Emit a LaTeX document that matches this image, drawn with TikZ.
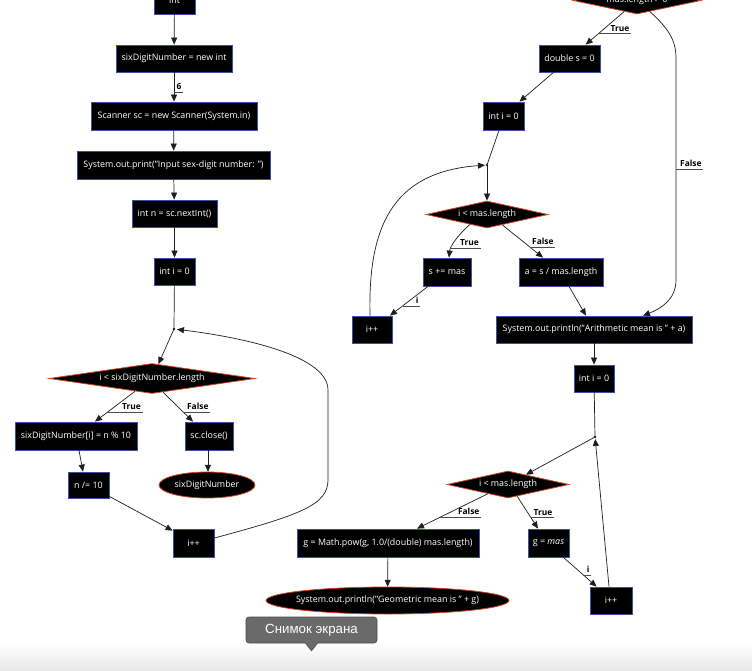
\documentclass[tikz,border=0pt]{standalone}
\usepackage{fontspec}
\setmainfont{Open Sans}
\newfontfamily\tipfont{Liberation Sans}
\usetikzlibrary{arrows.meta,shapes.geometric,calc,backgrounds}

\definecolor{boxedge}{HTML}{3F4FA8}
\definecolor{decedge}{HTML}{D2461E}
\definecolor{linecol}{HTML}{1E1E1E}
\definecolor{tipgray}{HTML}{6A6A6A}
\definecolor{tipedge}{HTML}{4C4C4C}

\tikzset{
  lbl/.style={font=\fontsize{8.9}{10}\selectfont, text=white},
  box/.style n args={2}{rectangle, fill=black, draw=boxedge, line width=0.8pt, lbl,
    inner sep=0pt, minimum width=#1, minimum height=#2},
  test/.style n args={2}{diamond, shape aspect=5, fill=black, draw=decedge, line width=0.8pt, lbl,
    inner sep=0pt, minimum width=#1, minimum height=#2},
  term/.style n args={2}{rectangle, lbl, inner sep=0pt, minimum width=#1, minimum height=#2},
  arr/.style={draw=linecol, line width=0.7pt, -{Triangle[length=7pt,width=6pt]}},
  plain/.style={draw=linecol, line width=0.7pt},
  elab/.style={font=\fontsize{8.4}{10}\selectfont\bfseries, inner sep=0pt, anchor=base west},
  uline/.style={draw=black!70, line width=0.6pt},
  tip/.style={rectangle, rounded corners=3pt, fill=tipgray, draw=tipedge, line width=0.6pt,
    text=white, font=\tipfont\fontsize{13.3}{16}\selectfont, inner sep=0pt,
    minimum width=131, minimum height=26},
}

% edge label: point on the edge, horizontal offset of the text, name, text
\newcommand\edgelabel[4]{%
  \node[elab] (#3) at ($(#1)+(#2,-2.5)$) {#4};
  \draw[uline] (#1) -- ($(#1 -| #3.east)+(1.5,0)$);
}

\begin{document}
\begin{tikzpicture}[x=1pt,y=-1pt]
\useasboundingbox (0,0) rectangle (752,671);
\clip (0,0) rectangle (752,671);

% ---------- left flow: reading the six-digit number ----------
\node[box={41}{27}]  (int)     at (174.5,0.5)  {int};
\node[box={116}{27}] (new)     at (174,58.5)   {sixDigitNumber = new int};
\node[box={166}{28}] (scan)    at (174,116)    {Scanner sc = new Scanner(System.in)};
\node[box={193}{28}] (print)   at (173.5,165)  {System.out.print("Input sex-digit number: ")};
\node[box={85}{27}]  (nextint) at (174.5,213.5){int n = sc.nextInt()};
\node[box={41}{27}]  (iL)      at (174.5,271.5){int i = 0};
\coordinate (jL) at (174,329);
\node[test={206}{27}] (dL)     at (152,378.5)  {i < sixDigitNumber.length};
\node[box={122}{28}] (digit)   at (76,436)     {sixDigitNumber[i] = n \% 10};
\node[box={48}{28}]  (close)   at (209,436)    {sc.close()};
\node[box={41}{26}]  (ndiv)    at (88.5,485)   {n /= 10};
\node[term={96}{26}] (retL)    at (207,485)    {sixDigitNumber};
\node[box={41}{28}]  (incL)    at (193.5,543)  {i++};

% ---------- right flow: the two means ----------
\node[test={128}{27}] (dTop)   at (637,0.5)    {mas.length > 0};
\node[box={61}{27}]  (dbl)     at (569.5,58.5) {double s = 0};
\node[box={41}{28}]  (iR1)     at (503.5,116)  {int i = 0};
\coordinate (jR1) at (487,165);
\node[test={122}{27}] (dR1)    at (487,214.5)  {i < mas.length};
\node[box={48}{28}]  (sadd)    at (447,272)    {s += mas};
\node[box={84}{28}]  (adiv)    at (561,272)    {a = s / mas.length};
\node[box={40}{27}]  (incR1)   at (372,329.5)  {i++};
\node[box={196}{27}] (arith)   at (594,329.5)  {System.out.println("Arithmetic mean is " + a)};
\node[box={40}{27}]  (iR2)     at (594,378.5)  {int i = 0};
\coordinate (jR2) at (595,437);
\node[test={122}{27}] (dR2)    at (508,484.5)  {i < mas.length};
\node[box={182}{28}] (gpow)    at (388,543)    {g = Math.pow(g, 1.0/(double) mas.length)};
\node[box={41}{28}]  (gmas)    at (548.5,543)  {g = \textit{mas}};
\node[box={42}{27}]  (incR2)   at (611,600.5)  {i++};
\node[term={243}{27}] (retR)   at (387.5,600.5){System.out.println("Geometric mean is " + g)};

% terminal ellipses and page shading behind everything
\begin{scope}[on background layer]
  \fill[white] (0,0) rectangle (752,671);
  \shade[top color=white, bottom color=black!9] (0,642) rectangle (752,671);
  \filldraw[fill=black, draw=decedge, line width=0.8pt] (retL.center) ellipse [x radius=48, y radius=13];
  \filldraw[fill=black, draw=decedge, line width=0.8pt] (retR.center) ellipse [x radius=121.5, y radius=13.5];
\end{scope}

% ---------- left connectors ----------
\draw[arr] (int) -- (new);
\draw[arr] (new) -- coordinate[pos=0.667] (e6) (scan);
\draw[arr] (scan) -- (print);
\draw[arr] (print) -- (nextint);
\draw[arr] (nextint) -- (iL);
\draw[plain] (iL) -- (jL);
\draw[arr] (jL) -- (dL);
\draw[arr] ($(dL.south)!0.165!(dL.west)$) -- coordinate[pos=0.69] (eLT) ($(digit.north)+(19,0)$);
\draw[arr] ($(dL.south)!0.107!(dL.east)$) -- coordinate[pos=0.68] (eLF) ($(close.north)+(-16,0)$);
\draw[arr] ($(digit.south)+(3,0)$) -- ($(ndiv.north)+(-5.5,0)$);
\draw[arr] ($(close.south)+(-1,0)$) -- ($(retL.north)+(1,0)$);
\draw[arr] ($(ndiv.south east)+(0,-2)$) -- ($(incL.north west)+(0,2)$);
\draw[arr, shorten >=3pt] ($(incL.east)+(0,-5)$) .. controls (300,515) and (328,505) .. (328,480)
   -- (328,390) .. controls (328,355) and (240,337) .. (jL);
\fill[linecol] (jL) circle (1.4);

\edgelabel{e6}{2.5}{l6}{6}
\edgelabel{eLT}{14.5}{lLT}{True}
\edgelabel{eLF}{3.5}{lLF}{False}

% ---------- right connectors ----------
\draw[arr] ($(dTop.south)!0.2!(dTop.west)$) -- coordinate[pos=0.67] (eTT) (dbl);
\draw[arr] ($(dTop.south)!0.2!(dTop.east)$) .. controls (668,28) and (676,40) .. (676,58)
   -- coordinate[pos=0.5] (eTF) (676,280) .. controls (676,300) and (660,309) .. ($(arith.north)+(49,0)$);
\draw[arr] ($(dbl.south)+(-16,0)$) -- ($(iR1.north)+(16,0)$);
\draw[plain] ($(iR1.south)+(-4.5,0)$) -- (jR1);
\draw[arr] (jR1) -- (dR1.north);
\draw[arr] ($(dR1.south)!0.28!(dR1.west)$) .. controls (456,237) and (450,247) .. ($(sadd.north)+(2,0)$);
\coordinate (eR1T) at (451,248);
\draw[arr] ($(dR1.south)!0.25!(dR1.east)$) -- coordinate[pos=0.68] (eR1F) ($(adiv.north)+(-18,0)$);
\draw[arr] ($(sadd.south)+(-19,0)$) -- coordinate[pos=0.667] (eSI) ($(incR1.north)+(18,0)$);
\draw[arr, shorten >=2pt] ($(incR1.north)+(-2,0)$) .. controls (368,230) and (390,172) .. (jR1);
\fill[linecol] (jR1) circle (1.4);
\draw[arr] ($(adiv.south)+(8,0)$) -- ($(arith.north)+(-8,0)$);
\draw[arr] (arith) -- (iR2);
\draw[plain] (iR2) -- (jR2);
\draw[arr] (jR2) -- (dR2);
\fill[linecol] (jR2) circle (1.4);
\draw[arr] ($(dR2.south)!0.33!(dR2.west)$) -- coordinate[pos=0.67] (eR2F) ($(gpow.north)+(29,0)$);
\draw[arr] ($(dR2.south)!0.15!(dR2.east)$) -- coordinate[pos=0.66] (eR2T) ($(gmas.north)+(-10.5,0)$);
\draw[arr] ($(gmas.south east)+(-6,0)$) -- coordinate[pos=0.6] (eGI) ($(incR2.north west)+(7,0)$);
\draw[arr, shorten >=2pt] ($(incR2.north)+(-2,0)$) -- (jR2);
\draw[arr] (gpow) -- (retR);

\edgelabel{eTT}{12}{lTT}{True}
\edgelabel{eTF}{4}{lTF}{False}
\edgelabel{eR1T}{9}{lR1T}{True}
\edgelabel{eR1F}{2}{lR1F}{False}
\edgelabel{eSI}{13}{lSI}{i}
\edgelabel{eR2F}{17.5}{lR2F}{False}
\edgelabel{eR2T}{2.5}{lR2T}{True}
\edgelabel{eGI}{3.3}{lGI}{i}

% ---------- screenshot tooltip ----------
\node[tip] (shot) at (311.5,630) {Снимок экрана};
\filldraw[fill=tipgray, draw=tipedge, line width=0.6pt]
  ($(shot.south)+(-6,0)$) -- ($(shot.south)+(0,7.5)$) -- ($(shot.south)+(6,0)$);
\fill[tipgray] ($(shot.south)+(-5.4,-1)$) rectangle ($(shot.south)+(5.4,0.4)$);
\end{tikzpicture}
\end{document}
